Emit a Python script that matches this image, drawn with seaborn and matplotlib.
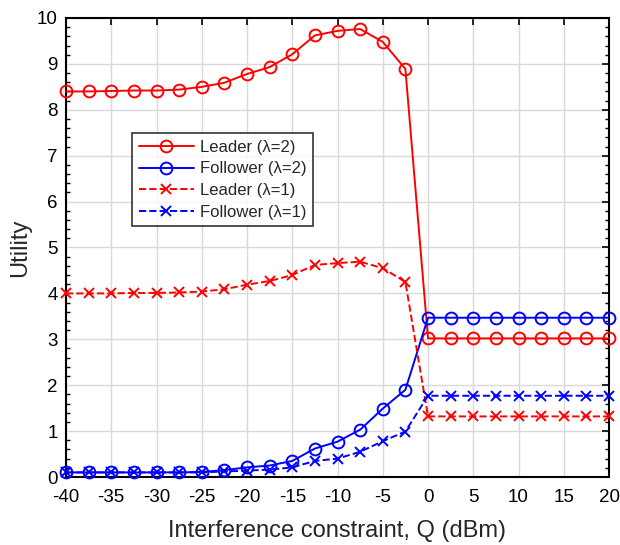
import matplotlib
matplotlib.use("Agg")
import matplotlib.pyplot as plt
import seaborn as sns
import numpy as np
import pandas as pd
from matplotlib.ticker import MultipleLocator

q = [-40, -37.5, -35, -32.5, -30, -27.5, -25, -22.5, -20, -17.5, -15, -12.5,
     -10, -7.5, -5, -2.5, 0, 2.5, 5, 7.5, 10, 12.5, 15, 17.5, 20]
leader2 = [8.40, 8.40, 8.41, 8.42, 8.42, 8.44, 8.50, 8.59, 8.78, 8.93, 9.21, 9.62,
           9.72, 9.76, 9.48, 8.89, 3.02, 3.02, 3.02, 3.02, 3.02, 3.02, 3.02, 3.02, 3.02]
follower2 = [0.10, 0.10, 0.10, 0.10, 0.10, 0.10, 0.11, 0.15, 0.21, 0.25, 0.35, 0.62,
             0.77, 1.03, 1.49, 1.90, 3.47, 3.47, 3.47, 3.47, 3.47, 3.47, 3.47, 3.47, 3.47]
leader1 = [4.00, 4.00, 4.00, 4.01, 4.01, 4.02, 4.04, 4.09, 4.19, 4.27, 4.40, 4.62,
           4.66, 4.69, 4.55, 4.25, 1.32, 1.32, 1.32, 1.32, 1.32, 1.32, 1.32, 1.32, 1.32]
follower1 = [0.10, 0.10, 0.10, 0.10, 0.10, 0.10, 0.10, 0.12, 0.14, 0.16, 0.21, 0.35,
             0.40, 0.55, 0.78, 0.99, 1.77, 1.77, 1.77, 1.77, 1.77, 1.77, 1.77, 1.77, 1.77]
labels = ["Leader (λ=2)", "Follower (λ=2)", "Leader (λ=1)", "Follower (λ=1)"]
xticks = [-40, -35, -30, -25, -20, -15, -10, -5, 0, 5, 10, 15, 20]

sns.set_style("white")
plt.rcParams['font.family'] = ['Liberation Sans', 'DejaVu Sans']

fig = plt.figure(figsize=(6.2, 5.45), dpi=100)
ax = fig.add_axes([66/620, 1-477/545, (609-66)/620, (477-18)/545])

series = [
    (leader2, 'red', '-', 'o', 8.5),
    (follower2, 'blue', '-', 'o', 8.5),
    (leader1, 'red', '--', 'x', 6.5),
    (follower1, 'blue', '--', 'x', 6.5),
]
for (vals, col, ls, mk, ms), lab in zip(series, labels):
    df = pd.DataFrame({'Q': q, 'U': vals})
    sns.lineplot(data=df, x='Q', y='U', ax=ax, color=col, linestyle=ls,
                 marker=mk, markersize=ms, markerfacecolor='none',
                 markeredgecolor=col, markeredgewidth=1.4, linewidth=1.4,
                 label=lab, sort=False, clip_on=False, zorder=3)

ax.set_xlim(-40, 20)
ax.set_ylim(0, 10)
ax.set_xticks(xticks)
ax.set_xticklabels([str(t) for t in xticks])
ax.set_yticks(range(0, 11))
ax.yaxis.set_minor_locator(MultipleLocator(0.2))
ax.grid(True, which='major', color='#d9d9d9', linewidth=1.0)
ax.set_axisbelow(True)
ax.tick_params(axis='both', which='both', direction='in', top=True, right=True,
               labelsize=13.5, colors='black')
ax.tick_params(axis='both', which='major', length=5, width=1.2)
ax.tick_params(axis='x', which='major', pad=9)
ax.tick_params(axis='y', which='major', pad=6)
ax.tick_params(axis='y', which='minor', length=3, width=1.0, left=True, right=True)
for s in ax.spines.values():
    s.set_linewidth(1.5)
    s.set_color('black')
ax.set_xlabel("Interference constraint, Q (dBm)", fontsize=17, labelpad=10)
ax.set_ylabel("Utility", fontsize=17, labelpad=4)

leg = ax.legend(loc='upper left', bbox_to_anchor=((132-66)/543, (477-133)/459),
                fontsize=12, frameon=True, fancybox=False, edgecolor='black',
                handlelength=3.3, numpoints=1, borderpad=0.4, labelspacing=0.4,
                handletextpad=0.35, borderaxespad=0)
leg.get_frame().set_linewidth(1.2)

fig.savefig("out.png", dpi=100)
